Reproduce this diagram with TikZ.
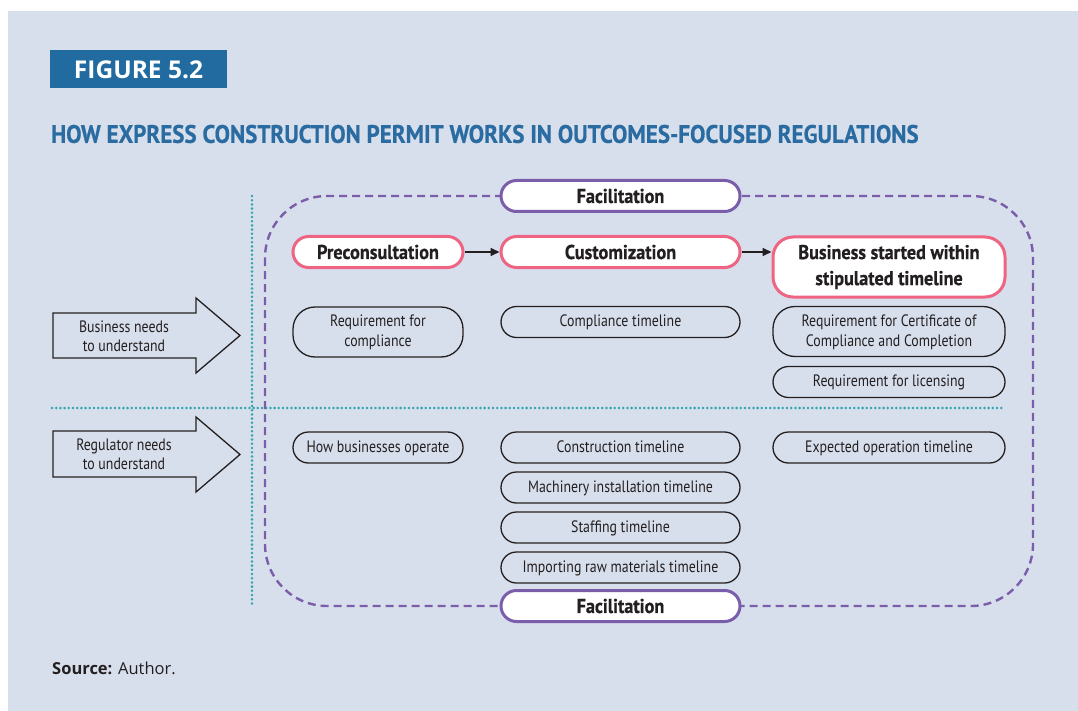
\documentclass[tikz,border=0pt]{standalone}
\usepackage{fontspec}
\setmainfont{PT Sans}
\newfontfamily\cnd[FakeStretch=0.84]{PT Sans}
\newfontfamily\cndb[FakeStretch=0.91,FakeBold=0.6]{PT Sans Bold}
\newfontfamily\hd{Open Sans}
\usetikzlibrary{arrows.meta}
\definecolor{bg}{HTML}{D8DFEC}
\definecolor{figblue}{HTML}{226BA0}
\definecolor{titleblue}{HTML}{2A6CA2}
\definecolor{purp}{HTML}{7B5EAA}
\definecolor{pinkc}{HTML}{EE6482}
\definecolor{teal}{HTML}{2FA3B0}
\definecolor{ink}{HTML}{231F20}
\tikzset{
  pill/.style={rounded corners=15.5pt, draw=ink, line width=1.3pt, minimum height=31pt, align=center, font=\cnd\fontsize{16.5}{20}\selectfont, text=ink, inner sep=2pt, text depth=2pt},
  pill2/.style={pill, rounded corners=22pt, minimum height=50pt},
  stage/.style={rounded corners=15.5pt, draw=pinkc, line width=3pt, fill=white, minimum height=31pt, align=center, font=\cndb\fontsize{20}{26}\selectfont, text=ink, inner sep=2pt},
  facil/.style={stage, draw=purp},
  flow/.style={-{Triangle[length=9pt,width=8pt]}, line width=2pt, ink},
  tealdots/.style={teal, line width=2.8pt, dash pattern=on 0pt off 4.2pt, line cap=round},
  purpdash/.style={purp, line width=2.4pt, dash pattern=on 8pt off 5pt},
  bigarrow/.style={draw=ink, line width=1.3pt},
  arrtext/.style={align=center, font=\cnd\fontsize{16.5}{19}\selectfont, text=ink}
}
\begin{document}
\begin{tikzpicture}[x=1pt,y=-1pt]
\useasboundingbox (0,0) rectangle (1078,711);
\fill[white] (0,0) rectangle (1078,711);
\fill[bg] (8,11) rectangle (1078,711);
% header
\node[fill=figblue, minimum width=177pt, minimum height=38pt, inner sep=0pt] (fig) at (138.5,69) {};
\node[text=white, font=\hd\bfseries\fontsize{24.5}{28}\selectfont] (figt) at (138.5,70) {FIGURE 5.2};
\node[anchor=west, text=titleblue, font=\cndb\fontsize{25.3}{30}\selectfont, inner sep=0pt] (title) at (51,134) {HOW EXPRESS CONSTRUCTION PERMIT WORKS IN OUTCOMES-FOCUSED REGULATIONS};
% grid lines
\coordinate (vtop) at (252,196);
\coordinate (vbot) at (252,606);
\coordinate (hl) at (52,408);
\coordinate (hr) at (1005,408);
\draw[tealdots] (vtop) -- (vbot);
\draw[tealdots] (hl) -- (hr);
% dashed region
\draw[purpdash, rounded corners=62pt] (265,196) rectangle (1033,606);
% stage nodes
\node[facil, minimum width=239pt] (fac1) at (620.5,196) {Facilitation};
\node[facil, minimum width=239pt] (fac2) at (620.5,606) {Facilitation};
\node[stage, minimum width=170pt] (pre) at (378,252) {Preconsultation};
\node[stage, minimum width=239pt] (cus) at (620.5,252) {Customization};
\node[stage, minimum width=232pt, minimum height=60pt, rounded corners=20pt] (bus) at (889,267) {Business started within\\stipulated timeline};
\draw[flow] (pre) -- (cus);
\draw[flow] (cus.east |- 252,252) -- (bus.west |- 252,252);
% business row
\node[pill2, minimum width=170pt] (rc) at (378,332) {Requirement for\\compliance};
\node[pill, minimum width=239pt] (ct) at (620.5,322) {Compliance timeline};
\node[pill2, minimum width=232pt] (rcc) at (889,331.5) {Requirement for Certificate of\\Compliance and Completion};
\node[pill, minimum width=232pt] (rl) at (889,382) {Requirement for licensing};
% regulator row
\node[pill, minimum width=170pt] (hb) at (378,447.5) {How businesses operate};
\node[pill, minimum width=239pt] (con) at (620.5,447.5) {Construction timeline};
\node[pill, minimum width=239pt] (mac) at (620.5,487.5) {Machinery installation timeline};
\node[pill, minimum width=239pt] (sta) at (620.5,527.5) {Staffing timeline};
\node[pill, minimum width=239pt] (imp) at (620.5,567.5) {Importing raw materials timeline};
\node[pill, minimum width=232pt] (exp) at (889,447.5) {Expected operation timeline};
% big arrows
\draw[bigarrow] (53,313) -- (196,313) -- (196,298) -- (240,335.5) -- (196,373) -- (196,358) -- (53,358) -- cycle;
\node[arrtext] (bn) at (124,336) {Business needs\\to understand};
\draw[bigarrow] (53,431) -- (196,431) -- (196,417) -- (240,454.5) -- (196,492) -- (196,477) -- (53,477) -- cycle;
\node[arrtext] (rn) at (124,454.5) {Regulator needs\\to understand};
% source
\node[anchor=base west, text=ink, font=\hd\fontsize{16.5}{19}\selectfont, inner sep=0pt] (src) at (52,674) {\textbf{Source:} Author.};
\end{tikzpicture}
\end{document}
